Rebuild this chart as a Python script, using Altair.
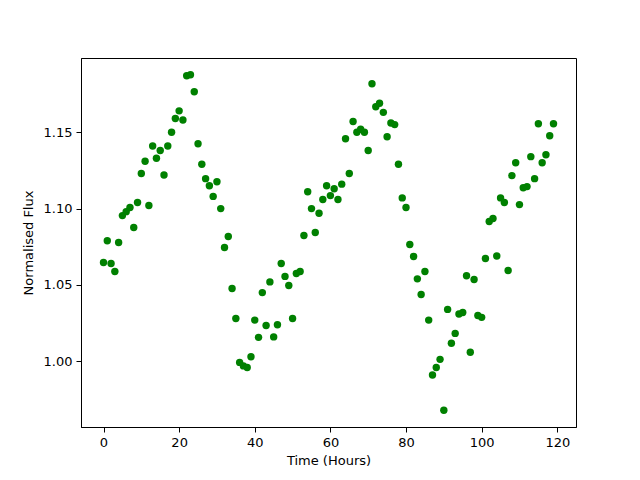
import altair as alt
import pandas as pd

hours = list(range(120))
flux = [
    1.0647, 1.079, 1.064, 1.0588, 1.0778, 1.0954, 1.098, 1.1007, 1.0876, 1.104,
    1.123, 1.131, 1.102, 1.141, 1.133, 1.138, 1.122, 1.141, 1.150, 1.159,
    1.164, 1.158, 1.187, 1.1876, 1.1765, 1.1425, 1.129, 1.1196, 1.115, 1.108,
    1.1176, 1.100, 1.0745, 1.0817, 1.0477, 1.028, 0.9993, 0.997, 0.996, 1.003,
    1.027, 1.0157, 1.045, 1.0235, 1.052, 1.016, 1.024, 1.064, 1.0556, 1.0497,
    1.028, 1.0575, 1.0588, 1.0824, 1.111, 1.100, 1.0843, 1.097, 1.106, 1.115,
    1.1085, 1.113, 1.106, 1.116, 1.1457, 1.123, 1.157, 1.150, 1.152, 1.150,
    1.138, 1.1817, 1.1667, 1.169, 1.163, 1.147, 1.156, 1.155, 1.129, 1.107,
    1.1007, 1.0765, 1.0686, 1.054, 1.0438, 1.0588, 1.027, 0.991, 0.996, 1.0013,
    0.968, 1.034, 1.0118, 1.0183, 1.031, 1.032, 1.056, 1.0059, 1.0536, 1.030,
    1.0288, 1.0673, 1.0915, 1.0935, 1.069, 1.107, 1.104, 1.0595, 1.1216, 1.130,
    1.1026, 1.1137, 1.1144, 1.134, 1.1196, 1.1556, 1.130, 1.1353, 1.1477, 1.1556,
]
x_ticks = [0, 20, 40, 60, 80, 100, 120]
y_ticks = [1.00, 1.05, 1.10, 1.15]

df = pd.DataFrame({"hours": hours, "flux": flux})

font = "DejaVu Sans"

chart = alt.Chart(df).mark_circle(size=55, opacity=1, color="#008000").encode(
    x=alt.X(
        "hours:Q",
        title="Time (Hours)",
        scale=alt.Scale(domain=[-5.95, 124.95], nice=False, zero=False),
        axis=alt.Axis(values=x_ticks, format="d", grid=False),
    ),
    y=alt.Y(
        "flux:Q",
        title="Normalised Flux",
        scale=alt.Scale(domain=[0.957, 1.1986], nice=False, zero=False),
        axis=alt.Axis(values=y_ticks, format=".2f", grid=False),
    ),
).properties(
    width=495,
    height=369,
    background="white",
    autosize=alt.AutoSizeParams(type="none"),
    padding={"left": 73, "top": 50, "right": 56, "bottom": 45},
).configure_view(
    stroke="black", strokeWidth=1, fill="white"
).configure_axis(
    domainColor="black",
    domainWidth=1,
    tickColor="black",
    tickSize=5,
    tickWidth=1,
    labelFont=font,
    labelFontSize=13,
    labelColor="black",
    labelPadding=4,
    titleFont=font,
    titleFontSize=13,
    titleFontWeight="normal",
    titleColor="black",
).configure_axisX(
    titlePadding=5,
).configure_axisY(
    titlePadding=8,
)

chart.save("out.html", embed_options={"renderer": "svg", "actions": False})
